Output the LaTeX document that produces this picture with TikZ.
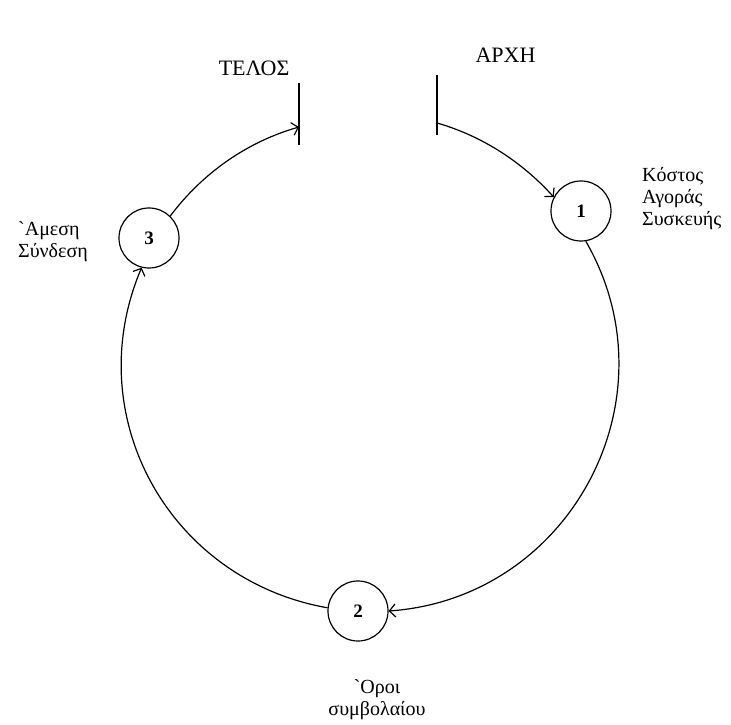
\documentclass[tikz,border=0pt]{standalone}
\usepackage{fontspec}
\setmainfont{Liberation Serif}
\usetikzlibrary{positioning,arrows.meta}

\begin{document}
\begin{tikzpicture}[x=1pt, y=1pt, line width=1.2pt, node distance=30pt,
  >={Straight Barb[length=6pt,width=13pt]},
  every node/.style={font=\fontsize{20}{22}\selectfont}]
\tikzstyle{stage}=[draw, circle, minimum size=60pt, inner sep=0pt, font=\fontsize{19}{20}\selectfont\bfseries]
\tikzstyle{lbl}=[inner sep=0pt]
\tikzstyle{endtitle}=[inner sep=0pt, font=\fontsize{22}{24}\selectfont]
\useasboundingbox (0,0) rectangle (731,724);
% the three steps round the cycle
\node[stage] (n1) at (581,513) {1};
\node[stage] (n2) at (358,113) {2};
\node[stage] (n3) at (149,486) {3};
\node[lbl, align=left, right=of n1, yshift=12pt] (l1) {Κόστος\\Αγοράς\\Συσκευής};
\node[lbl, align=center, below=37pt of n2, xshift=19pt] (l2) {\textasciigrave Οροι\\συμβολαίου};
\node[lbl, align=left, left=of n3, yshift=-4pt] (l3) {\textasciigrave Αμεση\\Σύνδεση};
% start and end marks
\coordinate (atop) at (437,649); \coordinate (abot) at (437,589); \coordinate (arxh) at (437,601);
\coordinate (ttop) at (299,641); \coordinate (tbot) at (299,579); \coordinate (telos) at (299,597);
\draw (atop)--(abot); \draw (ttop)--(tbot);
\node[endtitle, anchor=base west] (start) at (475,661) {ΑΡΧΗ};
\node[endtitle, anchor=base east] (end) at (290,648) {ΤΕΛΟΣ};
% the cycle, arcs of one circle
\draw[->] (arxh) to[out=-16, in=132, distance=47pt] (n1.153);
\draw[->] (n1.-81) to[out=-60, in=4, distance=182pt] (n2.0);
\draw[->] (n2.174) to[out=170, in=-113, distance=161pt] (n3.-104);
\draw[->] (n3.46) to[out=53, in=196, distance=54pt] (telos);
\end{tikzpicture}
\end{document}
